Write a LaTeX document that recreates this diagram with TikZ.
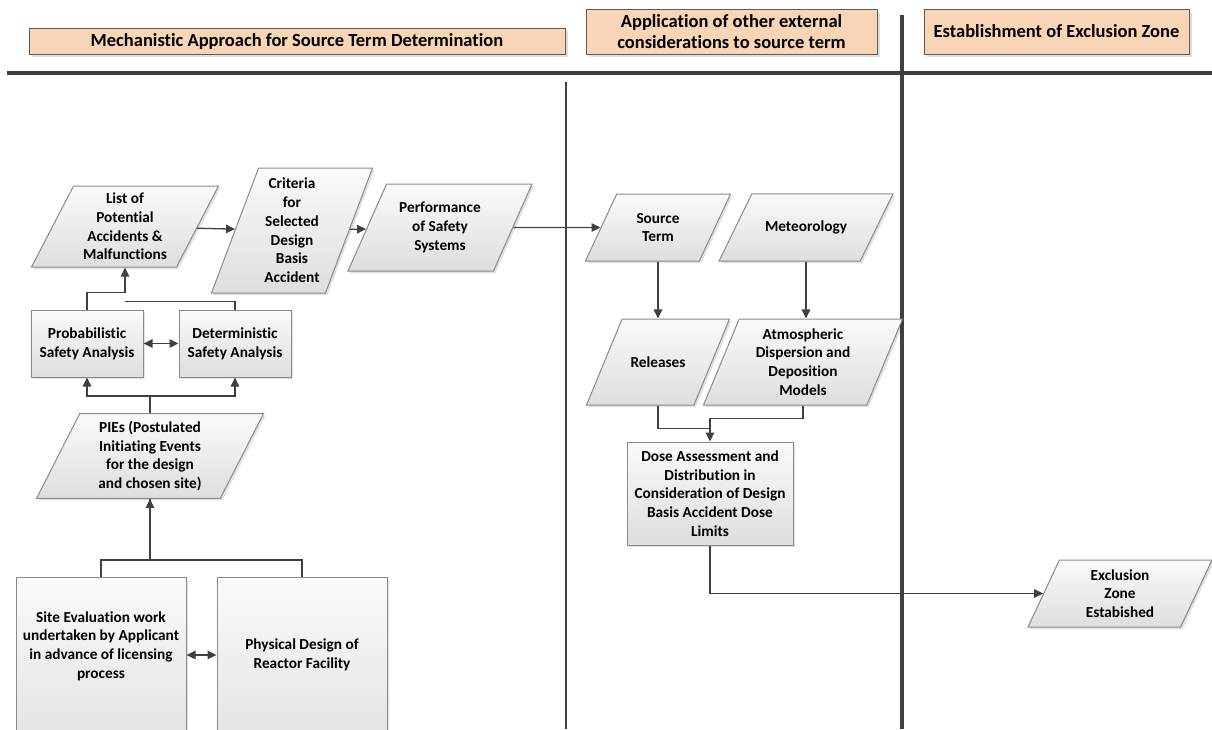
\documentclass[tikz,border=0pt]{standalone}
\usepackage{fontspec}
\setmainfont{Carlito}[Ligatures=NoCommon]
\usetikzlibrary{arrows.meta}
\usetikzlibrary{calc}
\usetikzlibrary{shapes.geometric}
\usetikzlibrary{shadows}
\tikzset{>={Triangle[length=9pt,width=8.5pt]}}
\definecolor{hdrfill}{HTML}{F9D5B7}
\definecolor{hdrline}{HTML}{5A5A5A}
\definecolor{boxline}{HTML}{8A8A8A}
\definecolor{wirecol}{HTML}{404040}
\newcommand\dgmfont{\fontsize{15.3}{18.75}\selectfont\bfseries}
\newcommand\hdrfont{\fontsize{18.5}{21.5}\selectfont\bfseries}
\tikzset{
  header/.style={draw=hdrline,fill=hdrfill,line width=1pt,align=center,inner sep=0pt,
                 font=\hdrfont,
                 drop shadow={shadow xshift=3pt,shadow yshift=-3pt,fill=black,opacity=0.12}},
  proc/.style={draw=boxline,line width=1pt,top color=black!2,bottom color=black!13,
               align=center,inner sep=2pt,font=\dgmfont,
               drop shadow={shadow xshift=2pt,shadow yshift=-2pt,fill=black,opacity=0.12}},
  % slant comes from the natural height, so inner ysep pads each one up to size
  data/.style={proc,trapezium,trapezium left angle=#1,
               trapezium right angle=\the\numexpr180-#1\relax,trapezium stretches body},
  data/.default=64,
  txt/.style={align=center,font=\dgmfont},
  wire/.style={draw=wirecol,line width=1.3pt},
  lane/.style={draw=wirecol,line width=#1},
}

\begin{document}
\begin{tikzpicture}[x=1pt,y=-1pt]
  \useasboundingbox (0,0) rectangle (1212,729);
  \clip (0,0) rectangle (1212,729);

  % LANES
  \draw[lane=3.5pt] (7,73) -- (1212,73);   % header rule
  \draw[lane=3.5pt] (902,15) -- (902,729); % exclusion zone divider
  \draw[lane=1.2pt] (566,82) -- (566,729); % source term divider

  % HEADERS
  \node[header,minimum width=536,minimum height=26] (hMech) at (297,41)
    {Mechanistic Approach for Source Term Determination};
  \node[header,minimum width=291,minimum height=45] (hApp) at (731.5,31.5)
    {Application of other external\\considerations to source term};
  \node[header,minimum width=265,minimum height=45] (hZone) at (1056.5,31.5)
    {Establishment of Exclusion Zone};

  % MECHANISTIC APPROACH
  \node[data=62,inner ysep=6,minimum width=187,minimum height=81] (list) at (125,226.5)
    {List of\\Potential\\Accidents \&\\Malfunctions};
  \node[data=69,inner ysep=9,minimum width=161,minimum height=125] (crit) at (292,230.5)
    {Criteria\\for\\Selected\\Design\\Basis\\Accident};
  \node[data=66,inner ysep=18,minimum width=184,minimum height=87] (perf) at (440,227.5)
    {Performance\\of Safety\\Systems};
  \node[proc,minimum width=112,minimum height=67] (prob) at (87,343.5)
    {Probabilistic\\Safety Analysis};
  \node[proc,minimum width=112,minimum height=67] (det) at (235,343.5)
    {Deterministic\\Safety Analysis};
  \node[data=63,inner ysep=7.5,minimum width=227,minimum height=84] (pies) at (150,456)
    {PIEs (Postulated\\Initiating Events\\for the design\\and chosen site)};
  \node[proc,minimum width=170,minimum height=200,anchor=north] (site) at (101,577) {};
  \node[txt] at ([yshift=-69pt]site.north)
    {Site Evaluation work\\undertaken by Applicant\\in advance of licensing\\process};
  \node[proc,minimum width=170,minimum height=200,anchor=north] (phys) at (302,577) {};
  \node[txt] at ([yshift=-78pt]phys.north) {Physical Design of\\Reactor Facility};

  % SOURCE TERM
  \node[data,inner ysep=17.5,minimum width=145,minimum height=67] (src) at (658,227.5)
    {Source\\Term};
  \node[data,inner ysep=27,minimum width=174,minimum height=67] (met) at (806,227.5)
    {Meteorology};
  \node[data=67,inner ysep=36.5,minimum width=143,minimum height=86] (rel) at (658,362)
    {Releases};
  \node[data=67,inner ysep=8.5,minimum width=199,minimum height=86] (atmo) at (803,362)
    {Atmospheric\\Dispersion and\\Deposition\\Models};
  \node[proc,minimum width=166,minimum height=103] (dose) at (710,493.5)
    {Dose Assessment and\\Distribution in\\Consideration of Design\\Basis Accident Dose\\Limits};

  % EXCLUSION ZONE
  \node[data,inner ysep=8,minimum width=184,minimum height=67] (excl) at (1120,593.5)
    {Exclusion\\Zone\\Estabished};

  % CONNECTORS
  \draw[wire,->] (list) -- (crit);
  \draw[wire,->] (crit) -- (perf);
  \draw[wire,->] (perf) -- (src);
  \draw[wire,<->] (prob) -- (det);
  \coordinate (lj) at (list.south);
  \draw[wire,->] (prob.north) |- ($(lj)+(0,25)$) -- (lj);
  \draw[wire] (det.north) |- ($(lj)+(0,34)$);
  \draw[wire,->] (pies.north) -- ++(0,-17) -| (prob.south);
  \draw[wire,->] (pies.north) -- ++(0,-17) -| (det.south);
  \draw[wire,->] (site.north) -- ++(0,-17) -| (pies.south);
  \draw[wire] (phys.north) -- ++(0,-17) -| (pies.south);
  \draw[wire,<->] ([yshift=-78pt]site.north east) -- ([yshift=-78pt]phys.north west);
  \draw[wire,->] (src.south) -- (src.south |- rel.north);
  \draw[wire,->] (met.south) -- (met.south |- atmo.north);
  \draw[wire] (rel.south) |- ([yshift=13pt]dose.north);
  \draw[wire,->] (atmo.south) |- ([yshift=23pt]dose.north) -- (dose.north);
  \draw[wire,->] (dose.south) |- (excl);
\end{tikzpicture}
\end{document}
